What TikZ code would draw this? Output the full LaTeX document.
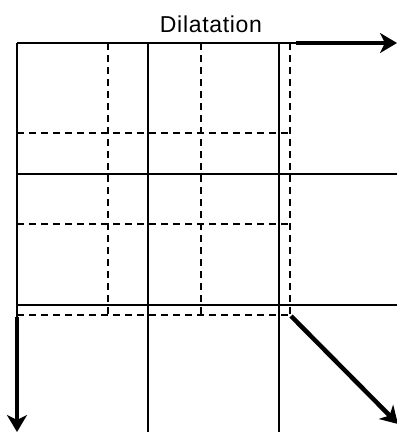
\documentclass[tikz,border=0pt]{standalone}
\usepackage{fontspec}
\setmainfont{Liberation Sans}
\newfontfamily\titlefont[LetterSpace=3]{Liberation Sans}
\usetikzlibrary{arrows.meta}
\begin{document}
\begin{tikzpicture}[x=1pt,y=-1pt,
  solidline/.style={line width=1.6pt},
  dashline/.style={line width=1.5pt,dash pattern=on 7pt off 5pt},
  bigarrow/.style={line width=4.5pt,-{Stealth[length=17pt,width=20pt,inset=5pt]}},
  lbl/.style={font=\titlefont\fontsize{23}{27}\selectfont,inner sep=0pt}]
\useasboundingbox (0,0) rectangle (397,432);
% dashed grid
\foreach \x in {108,201,290} \draw[dashline] (\x,43) -- (\x,315);
\foreach \y in {133,224,315} \draw[dashline] (17,\y) -- (290,\y);
% solid grid
\draw[solidline] (17,43) -- (297,43);
\draw[solidline] (17,43) -- (17,318);
\draw[solidline] (148,43) -- (148,432);
\draw[solidline] (279,43) -- (279,432);
\draw[solidline] (17,174) -- (397,174);
\draw[solidline] (17,305) -- (397,305);
% arrows
\coordinate (tr) at (296,43);
\coordinate (trEnd) at (397,43);
\coordinate (bl) at (17,317);
\coordinate (blEnd) at (17,432);
\coordinate (br) at (291,316);
\coordinate (brEnd) at (398,424);
\draw[bigarrow] (tr) -- (trEnd);
\draw[bigarrow] (bl) -- (blEnd);
\draw[bigarrow] (br) -- (brEnd);
\node[lbl] (title) at (211,24) {Dilatation};
\end{tikzpicture}
\end{document}
